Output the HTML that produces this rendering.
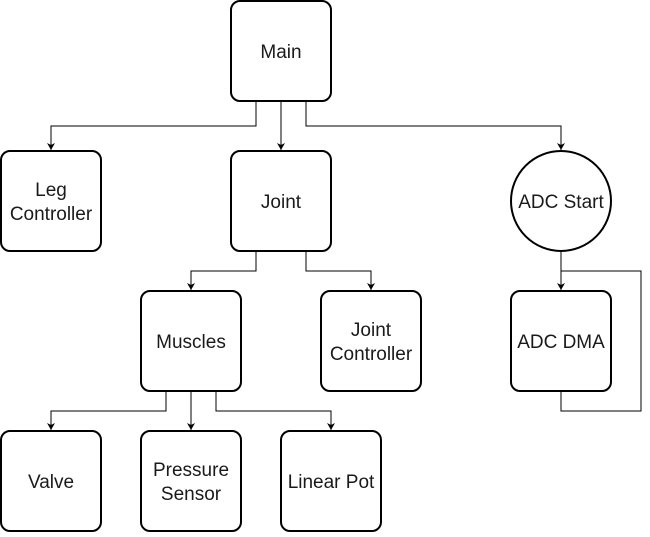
<!DOCTYPE html>
<html><head><meta charset="utf-8"><style>
html,body{margin:0;padding:0;background:#fff;}
svg text{font-family:"Liberation Sans",Arial,sans-serif;font-size:19px;fill:#1a1a1a;text-anchor:middle;}
</style></head><body>
<svg width="650" height="532" viewBox="0 0 650 532" xmlns="http://www.w3.org/2000/svg">
<defs><marker id="a" markerWidth="8" markerHeight="8" refX="7" refY="4" orient="auto" markerUnits="userSpaceOnUse"><path d="M0,0 L7,4 L0,8 L2,4 Z" fill="#000"/></marker></defs>
<g fill="none" stroke="#000" stroke-width="1">
<path d="M256,101 V126 H51 V150" marker-end="url(#a)"/>
<path d="M281,101 V150" marker-end="url(#a)"/>
<path d="M306,101 V126 H561 V150" marker-end="url(#a)"/>
<path d="M256,251 V271 H191 V290" marker-end="url(#a)"/>
<path d="M306,251 V271 H371 V290" marker-end="url(#a)"/>
<path d="M561,251 V290" marker-end="url(#a)"/>
<path d="M561,391 V411 H641 V271 H561"/>
<path d="M166,391 V411 H51 V430" marker-end="url(#a)"/>
<path d="M191,391 V430" marker-end="url(#a)"/>
<path d="M216,391 V411 H331 V430" marker-end="url(#a)"/>
</g>
<g fill="#fff" stroke="#000" stroke-width="2">
<rect x="231" y="1" width="100" height="100" rx="9"/>
<rect x="1" y="151" width="100" height="100" rx="9"/>
<rect x="231" y="151" width="100" height="100" rx="9"/>
<circle cx="561" cy="201" r="50"/>
<rect x="141" y="291" width="100" height="100" rx="9"/>
<rect x="321" y="291" width="100" height="100" rx="9"/>
<rect x="511" y="291" width="100" height="100" rx="9"/>
<rect x="1" y="431" width="100" height="100" rx="9"/>
<rect x="141" y="431" width="100" height="100" rx="9"/>
<rect x="281" y="431" width="100" height="100" rx="9"/>
</g>
<text x="281" y="58">Main</text>
<text x="51" y="196">Leg</text><text x="51" y="220">Controller</text>
<text x="281" y="208">Joint</text>
<text x="561" y="208">ADC Start</text>
<text x="191" y="348">Muscles</text>
<text x="371" y="336">Joint</text><text x="371" y="360">Controller</text>
<text x="561" y="348">ADC DMA</text>
<text x="51" y="488">Valve</text>
<text x="191" y="476">Pressure</text><text x="191" y="500">Sensor</text>
<text x="331" y="488">Linear Pot</text>
</svg>
</body></html>
